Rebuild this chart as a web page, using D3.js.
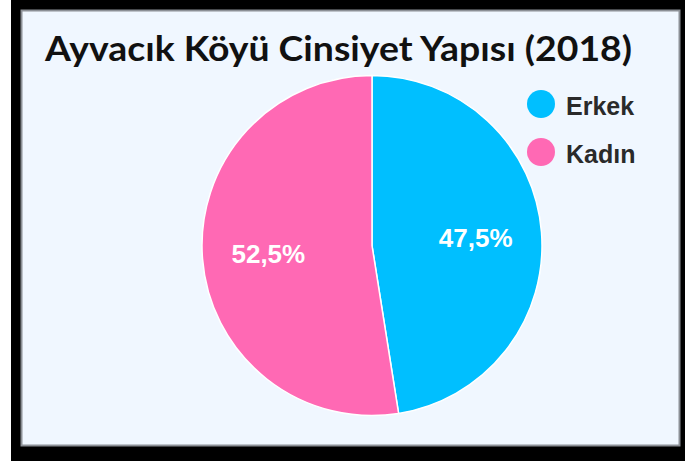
<!DOCTYPE html>
<html>
<head>
<meta charset="utf-8">
<script src="https://cdn.jsdelivr.net/npm/d3@7"></script>
<style>
  body { margin: 0; background: #fff; }
  svg { display: block; }
</style>
</head>
<body>
<div id="container"></div>
<script>
let w = 685;
let h = 461;

// data
const chartTitle = "Ayvacık Köyü Cinsiyet Yapısı (2018)";
const categories = ["Erkek", "Kadın"];
const values = [47.5, 52.5];
const colors = ["#00bfff", "#ff69b4"];

let viz = d3.select("#container").append("svg")
  .attr("width", w)
  .attr("height", h);

// black frame + light panel
viz.append("rect")
  .attr("x", 11).attr("y", 0)
  .attr("width", w - 11).attr("height", h)
  .attr("fill", "#000");

viz.append("rect")
  .attr("x", 21.5).attr("y", 10.5)
  .attr("width", 658).attr("height", 435)
  .attr("fill", "#f0f7ff")
  .attr("stroke", "#8c9096")
  .attr("stroke-width", 2);

// title
viz.append("text")
  .attr("x", 45)
  .attr("y", 61)
  .attr("textLength", 587)
  .attr("lengthAdjust", "spacingAndGlyphs")
  .style("font-family", "Lato, 'Open Sans', sans-serif")
  .style("font-weight", "bold")
  .style("font-size", "35px")
  .attr("fill", "#111")
  .text(chartTitle);

// pie
let cx = 372, cy = 245.5, r = 170;
let total = d3.sum(values);
let data = categories.map(function(c, i){
  return { name: c, value: values[i], color: colors[i] };
});

let pie = d3.pie().sort(null).value(function(d){ return d.value; });
let arc = d3.arc().innerRadius(0).outerRadius(r);
let labelArc = d3.arc().innerRadius(104).outerRadius(104);
let fmt = d3.format(".1f");

let g = viz.append("g").attr("transform", "translate(" + cx + "," + cy + ")");

g.selectAll(".slice").data(pie(data)).enter()
  .append("path")
  .attr("class", "slice")
  .attr("d", arc)
  .attr("fill", function(d){ return d.data.color; })
  .attr("stroke", "#fff")
  .attr("stroke-width", 1.5);

g.selectAll(".lbl").data(pie(data)).enter()
  .append("text")
  .attr("class", "lbl")
  .attr("transform", function(d){ return "translate(" + labelArc.centroid(d) + ")"; })
  .attr("text-anchor", "middle")
  .attr("dy", "0.36em")
  .style("font-family", "'Liberation Sans', Arial, sans-serif")
  .style("font-weight", "bold")
  .style("font-size", "26px")
  .attr("fill", "#fff")
  .text(function(d){ return fmt(d.data.value / total * 100).replace(".", ",") + "%"; });

// legend
let legend = viz.selectAll(".legend").data(data).enter()
  .append("g")
  .attr("class", "legend")
  .attr("transform", function(d, i){ return "translate(541," + (104 + i * 48) + ")"; });

legend.append("circle")
  .attr("r", 14)
  .attr("fill", function(d){ return d.color; });

legend.append("text")
  .attr("x", 25)
  .attr("y", 2)
  .attr("dy", "0.36em")
  .style("font-family", "'Liberation Sans', Arial, sans-serif")
  .style("font-weight", "bold")
  .style("font-size", "25px")
  .attr("fill", "#2a2a2a")
  .text(function(d){ return d.name; });
</script>
</body>
</html>
